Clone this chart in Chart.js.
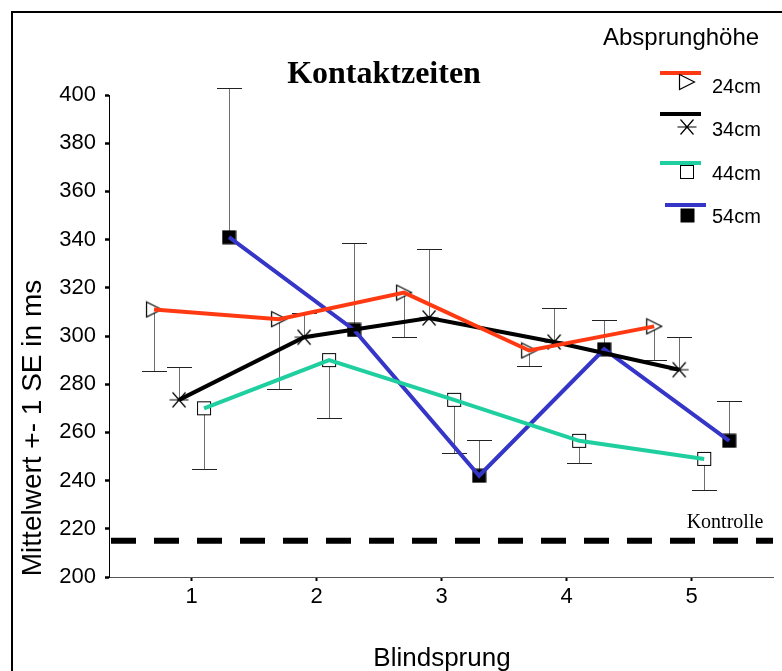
<!DOCTYPE html>
<html>
<head>
<meta charset="utf-8">
<script src="https://cdn.jsdelivr.net/npm/chart.js@4.4.1/dist/chart.umd.min.js"></script>
<style>
  html, body { margin: 0; padding: 0; background: #fff; overflow: hidden; }
  canvas { display: block; }
</style>
</head>
<body>
<canvas id="c" width="782" height="671"></canvas>
<script>
// Blind jump number (x categories)
const blindsprung = [1, 2, 3, 4, 5];
const yTickValues = [200, 220, 240, 260, 280, 300, 320, 340, 360, 380, 400];

// Contact times (ms), mean and standard error per take-off height
const seriesNames = ['24cm', '34cm', '44cm', '54cm'];
const mean24 = [311, 307, 318, 294, 304];
const se24   = [25.5, 29, 18.5, 6.5, 14];
const mean34 = [273.5, 299.5, 307.5, 297.5, 286];
const se34   = [13.5, 10, 28.5, 14, 13.5];
const mean44 = [270, 290, 273.5, 256.5, 249];
const se44   = [25, 24, 22, 9, 13];
const mean54 = [341, 302.5, 242, 294.5, 256.5];
const se54   = [62, 36, 15, 12, 16.5];
const kontrolle = 215;

// ---- styling ----
const SANS = '"Liberation Sans", Arial, sans-serif';
const SERIF = '"Liberation Serif", "Times New Roman", serif';
const X_MIN = 0.34, X_MAX = 5.65;

function makeMarker(kind) {
  const c = document.createElement('canvas');
  const g = c.getContext('2d');
  if (kind === 'tri') {
    c.width = 18; c.height = 18;
    g.lineWidth = 1.2; g.strokeStyle = '#000'; g.fillStyle = '#fff';
    g.beginPath(); g.moveTo(1.5, 1.5); g.lineTo(16.5, 9); g.lineTo(1.5, 16.5); g.closePath();
    g.fill(); g.stroke();
  } else if (kind === 'star') {
    c.width = 20; c.height = 18;
    g.lineWidth = 1.2; g.strokeStyle = '#000';
    g.beginPath();
    g.moveTo(0.5, 9); g.lineTo(19.5, 9);
    g.moveTo(3.5, 1.5); g.lineTo(16.5, 16.5);
    g.moveTo(16.5, 1.5); g.lineTo(3.5, 16.5);
    g.stroke();
  } else if (kind === 'sq') {
    c.width = 16; c.height = 16;
    g.lineWidth = 1; g.strokeStyle = '#000'; g.fillStyle = '#fff';
    g.fillRect(1.5, 1.5, 13, 13); g.strokeRect(1.5, 1.5, 13, 13);
  } else {
    c.width = 15; c.height = 15;
    g.fillStyle = '#000'; g.fillRect(0.5, 0.5, 14, 14);
  }
  return c;
}

const series = [
  { name: seriesNames[0], mean: mean24, se: se24, color: '#ff3a12', offset: -0.3, dir: -1, marker: makeMarker('tri') },
  { name: seriesNames[1], mean: mean34, se: se34, color: '#000000', offset: -0.1, dir: 1,  marker: makeMarker('star') },
  { name: seriesNames[2], mean: mean44, se: se44, color: '#1fcf9f', offset: 0.1,  dir: -1, marker: makeMarker('sq') },
  { name: seriesNames[3], mean: mean54, se: se54, color: '#3535c8', offset: 0.3,  dir: 1,  marker: makeMarker('fsq') }
];

function pts(s) {
  return blindsprung.map((b, i) => ({ x: b + s.offset, y: s.mean[i] }));
}

const datasets = [];
// markers underneath the connecting lines
series.forEach(s => datasets.push({
  label: s.name + ' marker', data: pts(s), showLine: false,
  pointStyle: s.marker, pointRadius: 8, order: 2, clip: false
}));
series.forEach(s => datasets.push({
  label: s.name, data: pts(s), showLine: true, borderColor: s.color,
  borderWidth: 4, pointRadius: 0, tension: 0, order: 1, clip: false,
  borderJoinStyle: 'miter'
}));
// control-group reference line
datasets.push({
  label: 'Kontrolle', data: [{ x: X_MIN, y: kontrolle }, { x: X_MAX, y: kontrolle }],
  showLine: true, borderColor: '#000', borderWidth: 6, borderDash: [25, 18],
  borderDashOffset: -2, pointRadius: 0, order: 3
});

const decor = {
  id: 'decor',
  beforeDraw(chart) {
    const ctx = chart.ctx;
    ctx.save();
    ctx.fillStyle = '#fff';
    ctx.fillRect(0, 0, chart.width, chart.height);
    ctx.fillStyle = '#000';
    ctx.fillRect(11, 11, chart.width, 2);
    ctx.fillRect(11, 11, 2, chart.height);
    ctx.restore();
  },
  beforeDatasetsDraw(chart) {
    // error bars: mean +/- 1 SE
    const ctx = chart.ctx, xs = chart.scales.x, ys = chart.scales.y;
    ctx.save();
    series.forEach(s => {
      blindsprung.forEach((b, i) => {
        const x = Math.round(xs.getPixelForValue(b + s.offset)) + 0.5;
        const y0 = ys.getPixelForValue(s.mean[i]);
        const y1 = Math.round(ys.getPixelForValue(s.mean[i] + s.dir * s.se[i])) + 0.5;
        ctx.lineWidth = 1;
        ctx.strokeStyle = '#6e6e6e';
        ctx.beginPath(); ctx.moveTo(x, y0); ctx.lineTo(x, y1); ctx.stroke();
        ctx.strokeStyle = '#222';
        ctx.beginPath(); ctx.moveTo(x - 12.5, y1); ctx.lineTo(x + 12.5, y1); ctx.stroke();
      });
    });
    ctx.restore();
  },
  afterDraw(chart) {
    const ctx = chart.ctx;
    ctx.save();
    ctx.fillStyle = '#000';
    // title
    ctx.font = 'bold 32px ' + SERIF;
    ctx.textAlign = 'center'; ctx.textBaseline = 'alphabetic';
    ctx.fillText('Kontaktzeiten', 384, 83);
    // axis titles
    ctx.font = '26px ' + SANS;
    ctx.fillText('Blindsprung', 442, 666);
    ctx.save();
    ctx.translate(41, 428);
    ctx.rotate(-Math.PI / 2);
    ctx.font = '28px ' + SANS;
    ctx.fillText('Mittelwert +- 1 SE in ms', 0, 0);
    ctx.restore();
    // control label
    ctx.font = '20px ' + SERIF;
    ctx.fillText('Kontrolle', 725, 528);
    // legend
    ctx.font = '24px ' + SANS;
    ctx.textAlign = 'left';
    ctx.fillText('Absprunghöhe', 603, 45);
    const rows = [
      { lineY: 73, lx: 660, mY: 81.5, tY: 93 },
      { lineY: 114, lx: 660, mY: 127, tY: 136 },
      { lineY: 163, lx: 660, mY: 172, tY: 180 },
      { lineY: 205, lx: 665, mY: 215, tY: 223 }
    ];
    ctx.font = '20px ' + SANS;
    series.forEach((s, i) => {
      const r = rows[i];
      ctx.fillStyle = s.color;
      ctx.fillRect(r.lx, r.lineY - 2, 41, 4);
      const m = s.marker;
      ctx.drawImage(m, Math.round(687 - m.width / 2), Math.round(r.mY - m.height / 2));
      ctx.fillStyle = '#000';
      ctx.fillText(s.name, 712, r.tY);
    });
    ctx.restore();
  }
};

new Chart(document.getElementById('c'), {
  type: 'line',
  data: { datasets },
  options: {
    responsive: false,
    animation: false,
    events: [],
    layout: { padding: { top: 95, right: 9, bottom: 0, left: 0 } },
    plugins: { legend: { display: false }, tooltip: { enabled: false }, title: { display: false } },
    scales: {
      x: {
        type: 'linear', min: X_MIN, max: X_MAX,
        afterBuildTicks: sc => { sc.ticks = blindsprung.map(v => ({ value: v })); },
        afterFit: sc => { sc.height = 94; },
        ticks: { color: '#000', font: { family: SANS, size: 22 }, padding: 3, maxRotation: 0 },
        grid: { drawOnChartArea: false, drawTicks: true, tickLength: 4, tickWidth: 2, tickColor: '#000' },
        border: { color: '#555', width: 1 }
      },
      y: {
        type: 'linear', min: 200, max: 400,
        afterBuildTicks: sc => { sc.ticks = yTickValues.map(v => ({ value: v })); },
        afterFit: sc => { sc.width = 109; },
        ticks: { color: '#000', font: { family: SANS, size: 22 }, padding: 9 },
        grid: { drawOnChartArea: false, drawTicks: true, tickLength: 4, tickWidth: 2.5, tickColor: '#000' },
        border: { color: '#000', width: 1 }
      }
    }
  },
  plugins: [decor]
});
</script>
</body>
</html>
